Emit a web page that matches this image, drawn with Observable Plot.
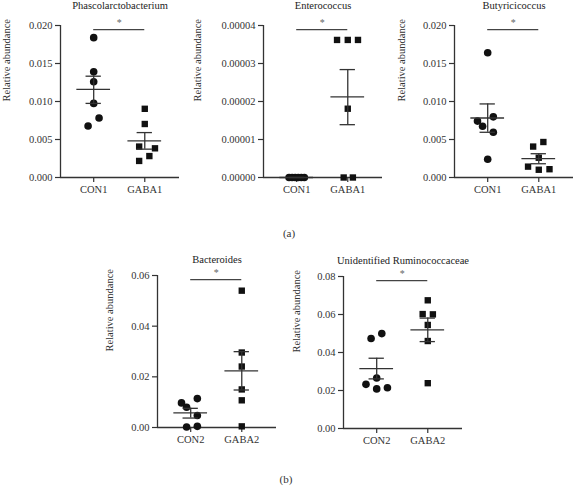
<!DOCTYPE html>
<html><head><meta charset="utf-8">
<script src="https://cdn.jsdelivr.net/npm/d3@7"></script>
<script src="https://cdn.jsdelivr.net/npm/@observablehq/plot@0.6"></script>
<style>
html,body{margin:0;padding:0;background:#fff;overflow:hidden}
#fig{position:relative;width:574px;height:493px;font-family:"Liberation Serif",serif;background:#fff}
.panel{position:absolute}
.tag{position:absolute;font-size:11px;line-height:11px;color:#333;transform:translateX(-50%)}
</style></head><body><div id="fig"></div>
<script>
// ---------- data ----------
const groupsA = ["CON1", "GABA1"];
const groupsB = ["CON2", "GABA2"];
const yLabel = "Relative abundance";

// (a) Phascolarctobacterium
const phasCon = [0.0184, 0.0139, 0.0126, 0.00975, 0.00783, 0.00678];
const phasConJit = [0, 0, 0, 0, 0.105, -0.11];
const phasGaba = [0.00904, 0.00704, 0.00407, 0.00384, 0.00282, 0.00218];
const phasGabaJit = [0, 0, -0.11, 0.2, 0.09, -0.11];
const phasMean = [0.0116, 0.00482];
const phasLo = [0.00975, 0.00373];
const phasHi = [0.01333, 0.00591];
const phasTicks = [0, 0.005, 0.010, 0.015, 0.020];

// (a) Enterococcus
const entCon = [0, 0, 0, 0, 0, 0];
const entConJit = [-0.15, -0.09, -0.03, 0.03, 0.09, 0.15];
const entGaba = [0.0000362, 0.0000362, 0.0000362, 0.0000181, 0, 0];
const entGabaJit = [-0.21, 0, 0.2, 0, -0.08, 0.1];
const entMean = [0, 0.0000212];
const entLo = [0, 0.0000139];
const entHi = [0, 0.0000284];
const entTicks = [0, 0.00001, 0.00002, 0.00003, 0.00004];

// (a) Butyricicoccus
const butCon = [0.01642, 0.00798, 0.00742, 0.00674, 0.00595, 0.00241];
const butConJit = [0, 0.11, -0.2, -0.1, 0.11, 0];
const butGaba = [0.00467, 0.00407, 0.0026, 0.00143, 0.00102, 0.00109];
const butGabaJit = [0.09, -0.11, 0, -0.21, 0, 0.21];
const butMean = [0.00783, 0.00249];
const butLo = [0.00595, 0.00181];
const butHi = [0.00968, 0.00313];
const butTicks = [0, 0.005, 0.010, 0.015, 0.020];

// (b) Bacteroides
const bacCon = [0.00972, 0.00802, 0.01141, 0.00475, 0.0002, 0.00045];
const bacConJit = [-0.18, -0.08, 0.13, 0.13, -0.08, 0.13];
const bacGaba = [0.05401, 0.0296, 0.02407, 0.01503, 0.01073, 0.00045];
const bacGabaJit = [0, 0, 0, 0, 0, 0];
const bacMean = [0.00576, 0.02237];
const bacLo = [0.00373, 0.0148];
const bacHi = [0.00757, 0.02994];
const bacTicks = [0, 0.02, 0.04, 0.06];

// (b) Unidentified Ruminococcaceae
const rumCon = [0.04996, 0.0474, 0.02657, 0.02325, 0.02143, 0.02083];
const rumConJit = [0.1, -0.11, 0, -0.21, 0.21, 0];
const rumGaba = [0.06747, 0.06023, 0.06008, 0.05449, 0.04604, 0.02385];
const rumGabaJit = [0, -0.1, 0.1, 0, 0, 0];
const rumMean = [0.03155, 0.05192];
const rumLo = [0.02611, 0.04574];
const rumHi = [0.03698, 0.05811];
const rumTicks = [0, 0.02, 0.04, 0.06, 0.08];

// ---------- panel builder ----------
const X0 = 0.35, X1 = 2.68;
const ink = "#333";
function panel(o) {
  const pts = [
    ...o.con.map((v, i) => ({g: 1, j: o.conJit[i], v, s: "circle"})),
    ...o.gaba.map((v, i) => ({g: 2, j: o.gabaJit[i], v, s: "square"}))
  ];
  const stats = o.mean.map((m, i) => ({x: i + 1, m, lo: o.lo[i], hi: o.hi[i]}));
  const yMax = o.ticks[o.ticks.length - 1];
  const sig = [{x1: 1, x2: 2, y: yMax * 0.973}];
  const chart = Plot.plot({
    width: 182, height: 205,
    marginLeft: 60, marginRight: 3, marginTop: 25, marginBottom: 28,
    x: {domain: [X0, X1]},
    y: {domain: [0, yMax]},
    style: {fontFamily: "'Liberation Serif', serif", fontSize: "10.5px", color: ink, background: "transparent", overflow: "visible"},
    marks: [
      Plot.axisY({anchor: "left", ticks: o.ticks, tickFormat: d3.format(o.fmt), tickSize: 5, tickPadding: 3, label: null, strokeWidth: 1.2}),
      Plot.axisX({anchor: "bottom", ticks: [1, 2], tickFormat: d => o.groups[d - 1], tickSize: 5, tickPadding: 3, label: null, strokeWidth: 1.2}),
      Plot.ruleX([X0], {stroke: ink, strokeWidth: 1.3}),
      Plot.ruleY([0], {stroke: ink, strokeWidth: 1.3}),
      Plot.dot(pts.filter(d => d.s === "circle"), {x: d => d.g + d.j, y: "v", r: 3.8, fill: "#111", symbol: "circle"}),
      Plot.dot(pts.filter(d => d.s === "square"), {x: d => d.g + d.j, y: "v", r: 3.6, fill: "#111", symbol: "square"}),
      Plot.ruleY(stats, {y: "m", x1: d => d.x - 0.33, x2: d => d.x + 0.33, stroke: ink, strokeWidth: 1.3}),
      Plot.ruleY(stats, {y: "hi", x1: d => d.x - 0.15, x2: d => d.x + 0.15, stroke: ink, strokeWidth: 1.3}),
      Plot.ruleY(stats, {y: "lo", x1: d => d.x - 0.15, x2: d => d.x + 0.15, stroke: ink, strokeWidth: 1.3}),
      Plot.ruleX(stats, {x: "x", y1: "lo", y2: "hi", stroke: ink, strokeWidth: 1.3}),
      Plot.ruleY(sig, {y: "y", x1: "x1", x2: "x2", stroke: "#444", strokeWidth: 1.2}),
      Plot.text(sig, {x: d => (d.x1 + d.x2) / 2, y: "y", text: () => "*", dy: -7, fill: "#666", fontSize: 10}),
      Plot.text([o.title], {frameAnchor: "top", text: d => d, lineAnchor: "bottom", dy: o.titleDy, fill: "#222", fontSize: 10.5}),
      Plot.text([yLabel], {frameAnchor: "left", text: d => d, rotate: -90, lineAnchor: "top", dx: o.labDx, fill: ink, fontSize: 10.5})
    ]
  });
  chart.classList.add("panel");
  chart.style.left = o.left + "px";
  chart.style.top = o.top + "px";
  return chart;
}

const fig = document.getElementById("fig");
fig.append(
  panel({title: "Phascolarctobacterium", groups: groupsA, con: phasCon, conJit: phasConJit, gaba: phasGaba, gabaJit: phasGabaJit, mean: phasMean, lo: phasLo, hi: phasHi, ticks: phasTicks, fmt: ".3f", left: 0, top: 0, titleDy: -17, labDx: -58}),
  panel({title: "Enterococcus", groups: groupsA, con: entCon, conJit: entConJit, gaba: entGaba, gabaJit: entGabaJit, mean: entMean, lo: entLo, hi: entHi, ticks: entTicks, fmt: ".5f", left: 202.5, top: 0, titleDy: -17, labDx: -69.5}),
  panel({title: "Butyricicoccus", groups: groupsA, con: butCon, conJit: butConJit, gaba: butGaba, gabaJit: butGabaJit, mean: butMean, lo: butLo, hi: butHi, ticks: butTicks, fmt: ".3f", left: 394, top: 0, titleDy: -17, labDx: -57.3}),
  panel({title: "Bacteroides", groups: groupsB, con: bacCon, conJit: bacConJit, gaba: bacGaba, gabaJit: bacGabaJit, mean: bacMean, lo: bacLo, hi: bacHi, ticks: bacTicks, fmt: ".2f", left: 97.3, top: 250.3, titleDy: -13, labDx: -52.3}),
  panel({title: "Unidentified Ruminococcaceae", groups: groupsB, con: rumCon, conJit: rumConJit, gaba: rumGaba, gabaJit: rumGabaJit, mean: rumMean, lo: rumLo, hi: rumHi, ticks: rumTicks, fmt: ".2f", left: 282.5, top: 250.7, titleDy: -13, labDx: -50.8})
);
const tagA = document.createElement("div");
tagA.className = "tag"; tagA.textContent = "(a)"; tagA.style.left = "289px"; tagA.style.top = "228px";
const tagB = document.createElement("div");
tagB.className = "tag"; tagB.textContent = "(b)"; tagB.style.left = "286px"; tagB.style.top = "474px";
fig.append(tagA, tagB);
</script></body></html>
